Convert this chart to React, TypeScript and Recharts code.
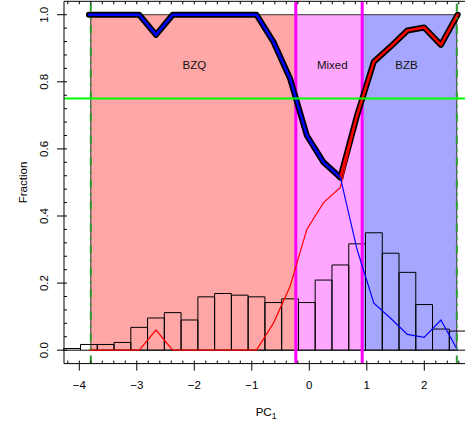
import React from 'react';
import {
  ComposedChart, Line, XAxis, YAxis, ReferenceArea, ReferenceLine, ReferenceDot,
} from 'recharts';

// ---- data ----
const binEdges = [-4.27, -3.979, -3.687, -3.396, -3.104, -2.813, -2.521, -2.23, -1.938, -1.647, -1.355, -1.064, -0.772, -0.481, -0.189, 0.102, 0.394, 0.686, 0.977, 1.269, 1.56, 1.852, 2.143, 2.435, 2.726];
const binHeights = [0.005, 0.017, 0.017, 0.023, 0.068, 0.096, 0.112, 0.09, 0.159, 0.169, 0.164, 0.159, 0.142, 0.153, 0.142, 0.209, 0.254, 0.317, 0.35, 0.289, 0.232, 0.136, 0.063, 0.057];

const centers = [-3.833, -3.541, -3.25, -2.958, -2.667, -2.375, -2.084, -1.792, -1.501, -1.209, -0.918, -0.626, -0.335, -0.043, 0.248, 0.54, 0.831, 1.123, 1.414, 1.706, 1.997, 2.289, 2.58];
const fracBZB = [0, 0, 0, 0, 0.06, 0, 0, 0, 0, 0, 0, 0.08, 0.19, 0.36, 0.44, 0.485, 0.7, 0.86, 0.905, 0.953, 0.962, 0.91, 1.0];
const fracBZQ = [1, 1, 1, 1, 0.94, 1, 1, 1, 1, 1, 1, 0.92, 0.81, 0.64, 0.56, 0.515, 0.3, 0.14, 0.095, 0.047, 0.038, 0.09, 0];
const dominantBZQ = [1, 1, 1, 1, 0.94, 1, 1, 1, 1, 1, 1, 0.92, 0.81, 0.64, 0.56, 0.515, null, null, null, null, null, null, null];
const dominantBZB = [null, null, null, null, null, null, null, null, null, null, null, null, null, null, null, 0.515, 0.7, 0.86, 0.905, 0.953, 0.962, 0.91, 1.0];

const regionBounds = [-3.8, -0.235, 0.92, 2.565];
const regionNames = ['BZQ', 'Mixed', 'BZB'];
const regionColors = ['#FFA6A6', '#FFA6FF', '#A6A6FF'];
const regionLabelX = [-2.0, 0.4, 1.69];
const regionLabelY = 0.85;
const threshold = 0.75;

const xMajorLabels = ['−4', '−3', '−2', '−1', '0', '1', '2'];
const xMajorValues = [-4, -3, -2, -1, 0, 1, 2];
const yMajorValues = [0, 0.2, 0.4, 0.6, 0.8, 1.0];
const yMajorLabels = ['0.0', '0.2', '0.4', '0.6', '0.8', '1.0'];

const xTicks = Array.from({ length: 35 }, (_, i) => Math.round((-4.2 + i * 0.2) * 10) / 10);
const yTicks = Array.from({ length: 26 }, (_, i) => Math.round(i * 0.04 * 100) / 100);

const rows = centers.map((x, i) => ({
  x,
  bzb: fracBZB[i],
  bzq: fracBZQ[i],
  domQ: dominantBZQ[i],
  domB: dominantBZB[i],
}));

const FONT = '"Liberation Sans", Arial, Helvetica, sans-serif';
const FS = 11.5;

const BottomTick = (props: any) => {
  const { x, y, payload } = props;
  const v = payload.value;
  const idx = xMajorValues.findIndex((m) => Math.abs(m - v) < 1e-6);
  return (
    <g>
      <line x1={x} y1={y} x2={x} y2={y - 3} stroke="#000" strokeWidth={1} />
      {idx >= 0 && (
        <>
          <line x1={x} y1={y} x2={x} y2={y + 7} stroke="#000" strokeWidth={1} />
          <text x={x} y={y + 25} textAnchor="middle" fontFamily={FONT} fontSize={FS} fill="#000">
            {xMajorLabels[idx]}
          </text>
        </>
      )}
    </g>
  );
};

const TopTick = (props: any) => {
  const { x, y } = props;
  return <line x1={x} y1={y} x2={x} y2={y + 3} stroke="#000" strokeWidth={1} />;
};

const LeftTick = (props: any) => {
  const { x, y, payload } = props;
  const v = payload.value;
  const idx = yMajorValues.findIndex((m) => Math.abs(m - v) < 1e-6);
  return (
    <g>
      <line x1={x} y1={y} x2={x + 3} y2={y} stroke="#000" strokeWidth={1} />
      {idx >= 0 && (
        <>
          <line x1={x} y1={y} x2={x - 7} y2={y} stroke="#000" strokeWidth={1} />
          <text
            x={x - 15.5}
            y={y}
            transform={`rotate(-90, ${x - 15.5}, ${y})`}
            textAnchor="middle"
            fontFamily={FONT}
            fontSize={FS}
            fill="#000"
          >
            {yMajorLabels[idx]}
          </text>
        </>
      )}
    </g>
  );
};

const XTitle = (props: any) => {
  const vb = props.viewBox || {};
  const cx = (vb.x ?? 64) + (vb.width ?? 404) / 2;
  const y = (vb.y ?? 363.6) + 52;
  return (
    <text x={cx} y={y} textAnchor="middle" fontFamily={FONT} fontSize={FS} fill="#000">
      PC<tspan dy={3} fontSize={8.5}>1</tspan>
    </text>
  );
};

const YTitle = (props: any) => {
  const vb = props.viewBox || {};
  const cy = (vb.y ?? 1.3) + (vb.height ?? 362.3) / 2;
  const x = 27.5;
  return (
    <text x={x} y={cy} transform={`rotate(-90, ${x}, ${cy})`} textAnchor="middle" fontFamily={FONT} fontSize={FS} fill="#000">
      Fraction
    </text>
  );
};

export default function App() {
  return (
    <div style={{ position: 'absolute', left: 0, top: 0, width: 465, height: 423, overflow: 'hidden', background: '#fff' }}>
      <ComposedChart
        width={475}
        height={423}
        data={rows}
        margin={{ top: 0, right: 7, bottom: 0, left: 0 }}
      >
        <XAxis
          xAxisId="b"
          dataKey="x"
          type="number"
          domain={[-4.266, 2.76]}
          allowDataOverflow
          ticks={xTicks}
          interval={0}
          tickSize={0}
          tickMargin={0}
          tickLine={false}
          axisLine={{ stroke: '#000', strokeWidth: 1 }}
          tick={<BottomTick />}
          height={59.4}
          label={{ content: <XTitle /> }}
        />
        <XAxis
          xAxisId="t"
          orientation="top"
          dataKey="x"
          type="number"
          domain={[-4.266, 2.76]}
          allowDataOverflow
          ticks={xTicks}
          interval={0}
          tickSize={0}
          tickMargin={0}
          tickLine={false}
          axisLine={{ stroke: '#000', strokeWidth: 1 }}
          tick={<TopTick />}
          height={1.3}
        />
        <YAxis
          type="number"
          domain={[-0.04, 1.04]}
          allowDataOverflow
          ticks={yTicks}
          interval={0}
          tickSize={0}
          tickMargin={0}
          tickLine={false}
          axisLine={{ stroke: '#000', strokeWidth: 1 }}
          tick={<LeftTick />}
          width={64}
          label={{ content: <YTitle /> }}
        />

        {regionNames.map((n, i) => (
          <ReferenceArea
            key={'reg' + n}
            xAxisId="b"
            x1={regionBounds[i]}
            x2={regionBounds[i + 1]}
            y1={0}
            y2={1}
            fill={regionColors[i]}
            fillOpacity={1}
            stroke="#333"
            strokeWidth={1}
            ifOverflow="visible"
          />
        ))}

        {binHeights.map((h, i) => (
          <ReferenceArea
            key={'bin' + i}
            xAxisId="b"
            x1={binEdges[i]}
            x2={binEdges[i + 1]}
            y1={0}
            y2={h}
            fill="none"
            fillOpacity={0}
            stroke="#000"
            strokeWidth={1}
            ifOverflow="visible"
          />
        ))}

        {regionNames.map((n, i) => (
          <ReferenceDot
            key={'lab' + n}
            xAxisId="b"
            x={regionLabelX[i]}
            y={regionLabelY}
            r={0}
            fill="none"
            stroke="none"
            label={{ value: n, position: 'center', fill: '#111', fontSize: FS, fontFamily: FONT }}
          />
        ))}

        <ReferenceLine xAxisId="b" x={regionBounds[1]} stroke="#FF00FF" strokeWidth={3} ifOverflow="visible" />
        <ReferenceLine xAxisId="b" x={regionBounds[2]} stroke="#FF00FF" strokeWidth={3} ifOverflow="visible" />

        <Line xAxisId="b" type="linear" dataKey="domQ" stroke="#000" strokeWidth={6} dot={false} activeDot={false} strokeLinecap="round" strokeLinejoin="round" isAnimationActive={false} connectNulls={false} />
        <Line xAxisId="b" type="linear" dataKey="domB" stroke="#000" strokeWidth={6} dot={false} activeDot={false} strokeLinecap="round" strokeLinejoin="round" isAnimationActive={false} connectNulls={false} />
        <Line xAxisId="b" type="linear" dataKey="domQ" stroke="#0000FF" strokeWidth={2.5} dot={false} activeDot={false} strokeLinecap="round" strokeLinejoin="round" isAnimationActive={false} connectNulls={false} />
        <Line xAxisId="b" type="linear" dataKey="domB" stroke="#FF0000" strokeWidth={2.5} dot={false} activeDot={false} strokeLinecap="round" strokeLinejoin="round" isAnimationActive={false} connectNulls={false} />
        <Line xAxisId="b" type="linear" dataKey="bzb" stroke="#FF0000" strokeWidth={1.2} dot={false} activeDot={false} isAnimationActive={false} />
        <Line xAxisId="b" type="linear" dataKey="bzq" stroke="#0000FF" strokeWidth={1.2} dot={false} activeDot={false} isAnimationActive={false} />

        <ReferenceLine xAxisId="b" x={regionBounds[0]} stroke="#2E9B2E" strokeWidth={2} strokeDasharray="8 6 2 6" ifOverflow="visible" />
        <ReferenceLine xAxisId="b" x={regionBounds[3]} stroke="#2E9B2E" strokeWidth={2} strokeDasharray="8 6 2 6" ifOverflow="visible" />
        <ReferenceLine xAxisId="b" y={threshold} stroke="#00FF00" strokeWidth={2} ifOverflow="visible" />
      </ComposedChart>
    </div>
  );
}
